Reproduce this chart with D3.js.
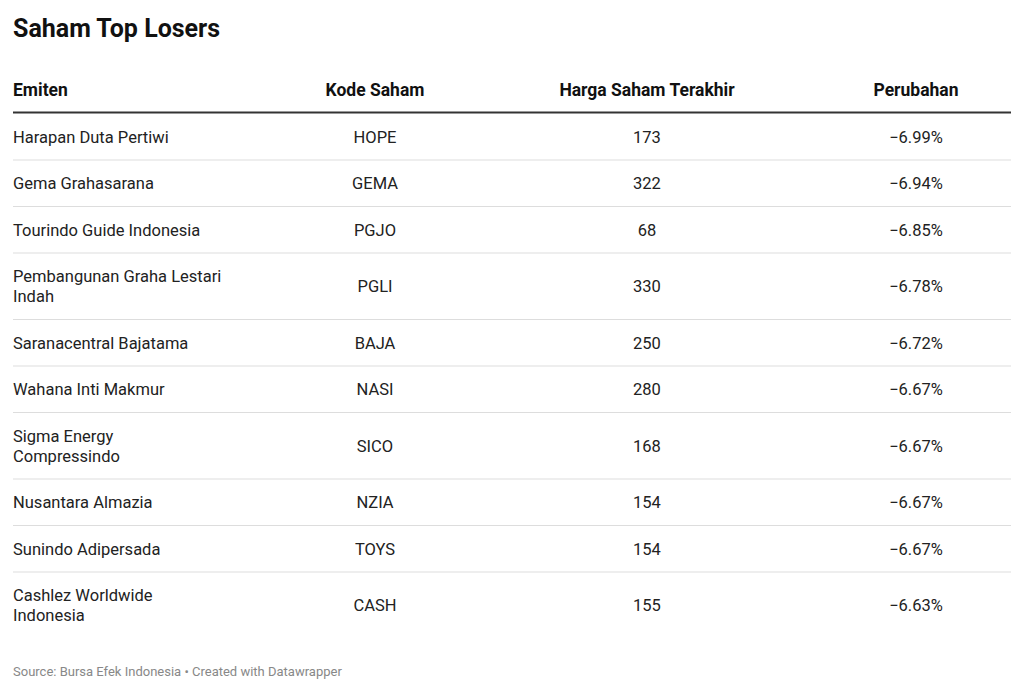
<!DOCTYPE html>
<html><head><meta charset="utf-8">
<script src="https://cdn.jsdelivr.net/npm/d3@7"></script>
<style>body{margin:0;background:#fff;font-family:Roboto,sans-serif}</style>
</head><body>
<script>
const columns = ["Emiten","Kode Saham","Harga Saham Terakhir","Perubahan"];
const emiten = [["Harapan Duta Pertiwi"],["Gema Grahasarana"],["Tourindo Guide Indonesia"],["Pembangunan Graha Lestari","Indah"],["Saranacentral Bajatama"],["Wahana Inti Makmur"],["Sigma Energy","Compressindo"],["Nusantara Almazia"],["Sunindo Adipersada"],["Cashlez Worldwide","Indonesia"]];
const kode = ["HOPE","GEMA","PGJO","PGLI","BAJA","NASI","SICO","NZIA","TOYS","CASH"];
const harga = [173,322,68,330,250,280,168,154,154,155];
const perubahan = [-6.99,-6.94,-6.85,-6.78,-6.72,-6.67,-6.67,-6.67,-6.67,-6.63];

const W=1024,H=692;
const svg=d3.select("body").append("svg").attr("width",W).attr("height",H);
svg.append("text").attr("x",13).attr("y",37).attr("font-size",25).attr("font-weight",700).attr("fill","#111").text("Saham Top Losers");
const colX=[13,375,647,916], anchors=["start","middle","middle","middle"];
svg.selectAll(".h").data(columns).join("text").attr("x",(d,i)=>colX[i]).attr("y",96).attr("text-anchor",(d,i)=>anchors[i])
  .attr("font-size",17.5).attr("font-weight",700).attr("fill","#111").text(d=>d);
svg.append("rect").attr("x",13).attr("y",111.5).attr("width",998).attr("height",2).attr("fill","#333");
let y=113.5;
const fmt=v=>"\u2212"+Math.abs(v).toFixed(2)+"%";
emiten.forEach((lines,i)=>{
  const h=lines.length>1?66.5:46.5, cy=y+h/2;
  const g=svg.append("g").attr("font-size",16.5).attr("fill","#222");
  lines.forEach((l,j)=>g.append("text").attr("x",13).attr("y",cy+6+(j-(lines.length-1)/2)*20).text(l));
  [kode[i],harga[i],fmt(perubahan[i])].forEach((t,k)=>g.append("text").attr("x",colX[k+1]).attr("y",cy+6).attr("text-anchor","middle").text(t));
  y+=h;
  if(i<emiten.length-1) svg.append("rect").attr("x",13).attr("y",y-0.5).attr("width",998).attr("height",1).attr("fill","#ddd");
});
svg.append("text").attr("x",13).attr("y",676).attr("font-size",13).attr("fill","#888").text("Source: Bursa Efek Indonesia • Created with Datawrapper");
</script>
</body></html>
